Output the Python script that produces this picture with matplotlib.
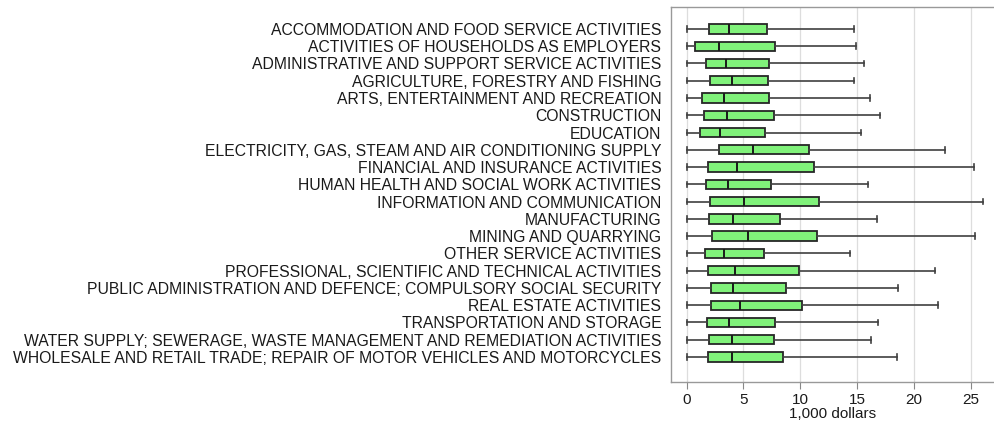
import matplotlib
matplotlib.use("Agg")
import matplotlib.pyplot as plt

# ---------------------------------------------------------------------------
# Data (1,000 dollars)
# ---------------------------------------------------------------------------
sectors = [
    "ACCOMMODATION AND FOOD SERVICE ACTIVITIES",
    "ACTIVITIES OF HOUSEHOLDS AS EMPLOYERS",
    "ADMINISTRATIVE AND SUPPORT SERVICE ACTIVITIES",
    "AGRICULTURE, FORESTRY AND FISHING",
    "ARTS, ENTERTAINMENT AND RECREATION",
    "CONSTRUCTION",
    "EDUCATION",
    "ELECTRICITY, GAS, STEAM AND AIR CONDITIONING SUPPLY",
    "FINANCIAL AND INSURANCE ACTIVITIES",
    "HUMAN HEALTH AND SOCIAL WORK ACTIVITIES",
    "INFORMATION AND COMMUNICATION",
    "MANUFACTURING",
    "MINING AND QUARRYING",
    "OTHER SERVICE ACTIVITIES",
    "PROFESSIONAL, SCIENTIFIC AND TECHNICAL ACTIVITIES",
    "PUBLIC ADMINISTRATION AND DEFENCE; COMPULSORY SOCIAL SECURITY",
    "REAL ESTATE ACTIVITIES",
    "TRANSPORTATION AND STORAGE",
    "WATER SUPPLY; SEWERAGE, WASTE MANAGEMENT AND REMEDIATION ACTIVITIES",
    "WHOLESALE AND RETAIL TRADE; REPAIR OF MOTOR VEHICLES AND MOTORCYCLES",
]
whislo = [0.0] * 20
q1     = [1.97, 0.76, 1.67, 2.08, 1.35, 1.53, 1.17, 2.88, 1.88, 1.67,
          2.08, 2.00, 2.26, 1.64, 1.85, 2.11, 2.14, 1.76, 1.97, 1.91]
median = [3.70, 2.82, 3.46, 3.99, 3.32, 3.52, 2.96, 5.81, 4.40, 3.67,
          5.02, 4.11, 5.40, 3.32, 4.28, 4.05, 4.69, 3.70, 3.96, 3.99]
q3     = [7.07, 7.78, 7.22, 7.13, 7.25, 7.72, 6.87, 10.80, 11.24, 7.39,
          11.68, 8.22, 11.50, 6.78, 9.86, 8.74, 10.12, 7.78, 7.66, 8.51]
whishi = [14.70, 14.94, 15.64, 14.73, 16.10, 17.02, 15.38, 22.71, 25.29, 15.99,
          26.10, 16.78, 25.35, 14.41, 21.89, 18.60, 22.12, 16.81, 16.23, 18.49]

plt.rcParams["font.family"] = ["Liberation Sans", "DejaVu Sans"]

fig = plt.figure(figsize=(9.94, 4.21), dpi=100)
ax = fig.add_axes([671 / 994, 1 - 381.7 / 421, (994 - 671) / 994, (381.7 - 7) / 421])

stats = []
for i in range(len(sectors)):
    stats.append({"whislo": whislo[i], "q1": q1[i], "med": median[i],
                  "q3": q3[i], "whishi": whishi[i], "fliers": []})

positions = list(range(1, len(sectors) + 1))
ax.bxp(stats, positions=positions, vert=False, widths=0.54, patch_artist=True,
       showfliers=False,
       boxprops=dict(facecolor="#80F27A", edgecolor="#262626", linewidth=1.3),
       medianprops=dict(color="#1a1a1a", linewidth=1.4),
       whiskerprops=dict(color="#404040", linewidth=1.2),
       capprops=dict(color="#404040", linewidth=1.2),
       capwidths=0.32, zorder=3)

ax.set_xlim(-1.38, 27.05)
ax.set_ylim(21.43, -0.27)
ax.set_yticks(positions)
ax.set_yticklabels(sectors, fontsize=11.3, color="#1a1a1a")
ax.tick_params(axis="y", length=0, pad=7)
ax.set_xticks([0, 5, 10, 15, 20, 25])
ax.tick_params(axis="x", length=5, color="#888888", labelsize=11,
               labelcolor="#1a1a1a", pad=3)
ax.set_xlabel("1,000 dollars", fontsize=11, color="#1a1a1a", labelpad=0)

ax.grid(axis="x", color="#dddddd", linewidth=0.9, zorder=0)
ax.set_axisbelow(True)
for side in ["left", "top", "bottom"]:
    ax.spines[side].set_color("#999999")
    ax.spines[side].set_linewidth(1.0)
ax.spines["right"].set_visible(False)

fig.savefig("out.png", dpi=100)
